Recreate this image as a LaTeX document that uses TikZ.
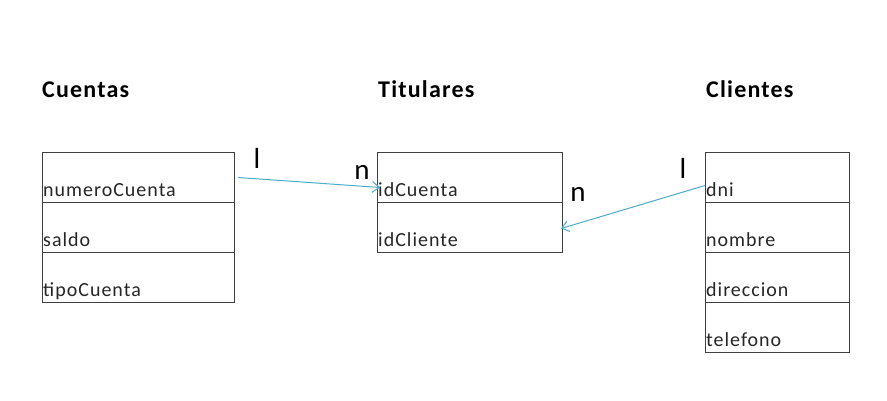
\documentclass[tikz,border=0pt]{standalone}
\usepackage{fontspec}
\setmainfont{Carlito}
\newfontfamily\spacedfont[LetterSpace=5]{Carlito}
\usetikzlibrary{arrows.meta}
\definecolor{linkc}{HTML}{4BACC6}
\definecolor{boxc}{HTML}{404040}
\tikzset{
  row/.style={draw=boxc, line width=1pt, minimum width=#1, minimum height=50pt, inner sep=0pt, anchor=north west},
  field/.style={anchor=base west, inner sep=0pt, font=\spacedfont\fontsize{20}{20}\selectfont, text=black!85},
  title/.style={anchor=base west, inner sep=0pt, font=\spacedfont\fontsize{24}{24}\selectfont\bfseries},
  card/.style={inner sep=0pt, font=\fontsize{29}{29}\selectfont},
  link/.style={draw=linkc, line width=1pt, -{Straight Barb[length=7pt,width=11pt]}}
}
\begin{document}
\begin{tikzpicture}[x=1pt,y=-1pt]
\useasboundingbox (0,0) rectangle (887,400);
% titles
\node[title] (tc) at (42,97) {Cuentas};
\node[title] (tt) at (378,97) {Titulares};
\node[title] (tk) at (706,97) {Clientes};
% Cuentas
\node[row=192pt] (c1) at (42,152) {};
\node[row=192pt] (c2) at (42,202) {};
\node[row=192pt] (c3) at (42,252) {};
\node[field] (c1t) at (43,196) {numeroCuenta};
\node[field] (c2t) at (43,246) {saldo};
\node[field] (c3t) at (43,296) {tipoCuenta};
% Titulares
\node[row=185pt] (t1) at (377,152) {};
\node[row=185pt] (t2) at (377,202) {};
\node[field] (t1t) at (378,196) {idCuenta};
\node[field] (t2t) at (378,246) {idCliente};
% Clientes
\node[row=144pt] (k1) at (705,152) {};
\node[row=144pt] (k2) at (705,202) {};
\node[row=144pt] (k3) at (705,252) {};
\node[row=144pt] (k4) at (705,302) {};
\node[field] (k1t) at (706,196) {dni};
\node[field] (k2t) at (706,246) {nombre};
\node[field] (k3t) at (706,296) {direccion};
\node[field] (k4t) at (706,346) {telefono};
% cardinalities
\node[card] (l1) at (257,158) {l};
\node[card] (n1) at (362,172) {n};
\node[card] (n2) at (578,194) {n};
\node[card] (l2) at (683,168) {l};
% connectors
\draw[link] ([xshift=3pt]c1.east) -- ([xshift=3pt,yshift=-10pt]t1.west);
\draw[link] ([yshift=-8pt]k1.west) -- ([xshift=-2pt,yshift=-1pt]t2.east);
\end{tikzpicture}
\end{document}
